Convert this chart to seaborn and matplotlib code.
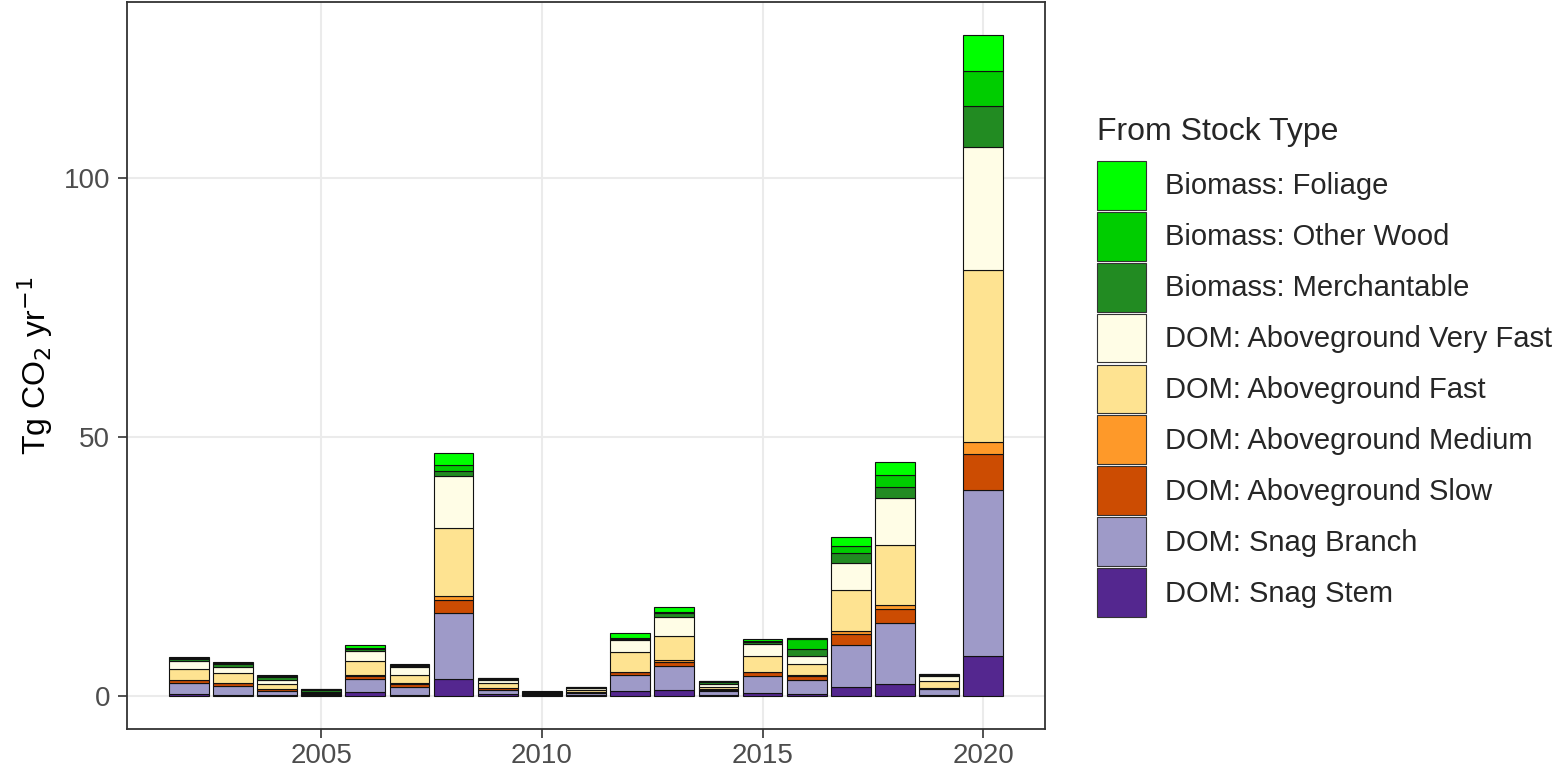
import pandas as pd
import numpy as np
import matplotlib
matplotlib.use('Agg')
import matplotlib.pyplot as plt
from matplotlib.patches import Patch
import seaborn as sns

# years and stock types (legend order, top of stack first)
years = list(range(2002, 2021))
stock_types = ['Biomass: Foliage', 'Biomass: Other Wood', 'Biomass: Merchantable',
               'DOM: Aboveground Very Fast', 'DOM: Aboveground Fast',
               'DOM: Aboveground Medium', 'DOM: Aboveground Slow',
               'DOM: Snag Branch', 'DOM: Snag Stem']
stock_colors = ['#00FF00', '#00CD00', '#228B22', '#FFFDE6', '#FEE391',
                '#FE9929', '#CC4C02', '#9E9AC8', '#54278F']

# values, Tg CO2 / yr
foliage = [0.2, 0.15, 0.15, 0.1, 0.65, 0.15, 2.4, 0.05, 0.05, 0.05, 1.0, 1.0, 0.1, 0.45, 0.2, 1.75, 2.6, 0.05, 7.0]
other_wood = [0.25, 0.25, 0.25, 0.15, 0.2, 0.15, 1.1, 0.1, 0.05, 0.05, 0.1, 0.3, 0.15, 0.15, 1.9, 1.3, 2.3, 0.1, 6.8]
merchantable = [0.5, 0.45, 0.5, 0.4, 0.25, 0.35, 1.0, 0.25, 0.15, 0.1, 0.15, 0.65, 0.4, 0.3, 1.36, 1.95, 2.1, 0.2, 7.9]
very_fast = [1.4, 1.2, 0.9, 0.15, 2.1, 1.5, 10.0, 0.65, 0.1, 0.3, 2.45, 3.8, 0.5, 2.4, 1.55, 5.3, 9.0, 1.0, 23.7]
fast = [2.1, 1.9, 0.9, 0.2, 2.7, 1.6, 13.2, 0.8, 0.15, 0.45, 3.7, 4.6, 0.5, 3.0, 2.26, 7.95, 11.6, 1.3, 33.3]
medium = [0.05, 0.1, 0.1, 0.05, 0.1, 0.05, 0.7, 0.1, 0.05, 0.05, 0.1, 0.3, 0.05, 0.1, 0.2, 0.5, 0.85, 0.05, 2.4]
slow = [0.6, 0.55, 0.35, 0.1, 0.55, 0.6, 2.5, 0.4, 0.1, 0.15, 0.6, 0.9, 0.2, 0.8, 0.7, 2.05, 2.7, 0.2, 7.0]
snag_branch = [2.1, 1.7, 0.7, 0.15, 2.6, 1.6, 12.9, 0.8, 0.1, 0.4, 3.1, 4.6, 0.85, 3.3, 2.6, 8.2, 11.8, 1.05, 31.9]
snag_stem = [0.4, 0.2, 0.2, 0.1, 0.7, 0.15, 3.2, 0.3, 0.1, 0.15, 0.9, 1.1, 0.15, 0.5, 0.45, 1.7, 2.3, 0.25, 7.8]

series = [foliage, other_wood, merchantable, very_fast, fast, medium, slow, snag_branch, snag_stem]

# long table for seaborn
rows = []
for name, vals in zip(stock_types, series):
    for yr, v in zip(years, vals):
        rows.append({'year': yr, 'type': name, 'value': v})
df = pd.DataFrame(rows)

sns.set_theme(style='white')
plt.rcParams['font.family'] = ['Arial', 'Liberation Sans', 'DejaVu Sans']

fig = plt.figure(figsize=(15.6, 7.69), dpi=100)
ax = fig.add_axes([0.0814, 0.052, 0.5885, 0.9454])

palette = dict(zip(stock_types, stock_colors))
sns.histplot(data=df, x='year', weights='value', hue='type', hue_order=stock_types,
             multiple='stack', discrete=True, shrink=0.9, palette=palette,
             edgecolor='#111111', linewidth=0.8, alpha=1, legend=False, ax=ax)

ax.set_xlim(2000.6, 2021.4)
ax.set_ylim(-6.4, 134.1)
ax.set_xticks([2005, 2010, 2015, 2020])
ax.set_yticks([0, 50, 100])
ax.set_axisbelow(True)
ax.grid(True, color='#EBEBEB', linewidth=1.5)
for s in ax.spines.values():
    s.set_color('#333333')
    s.set_linewidth(1.3)
ax.tick_params(axis='both', colors='#333333', length=6.5, width=1.2, labelsize=20,
               labelcolor='#4D4D4D', left=True, bottom=True)
ax.tick_params(axis='x', pad=3.5)
ax.tick_params(axis='y', pad=5.5)
ax.set_xlabel('')
ax.set_ylabel(r'Tg CO$_2$ yr$^{-1}$', fontsize=23, color='black', labelpad=6)

handles = [Patch(facecolor=c, edgecolor='#333333', linewidth=0.8) for c in stock_colors]
leg = fig.legend(handles, stock_types, loc='upper left', bbox_to_anchor=(0.703, 0.848),
                 frameon=False, fontsize=21, title='From Stock Type', title_fontsize=23,
                 handlelength=1.69, handleheight=2.2, labelspacing=0.0,
                 handletextpad=0.65, borderaxespad=0, borderpad=0)
leg._legend_box.align = 'left'
leg._legend_box.sep = 10
# entries column spacing
for vp in leg._legend_box.get_children()[1:]:
    for col in vp.get_children():
        col.sep = 1.5

fig.savefig('out.png', dpi=100)
